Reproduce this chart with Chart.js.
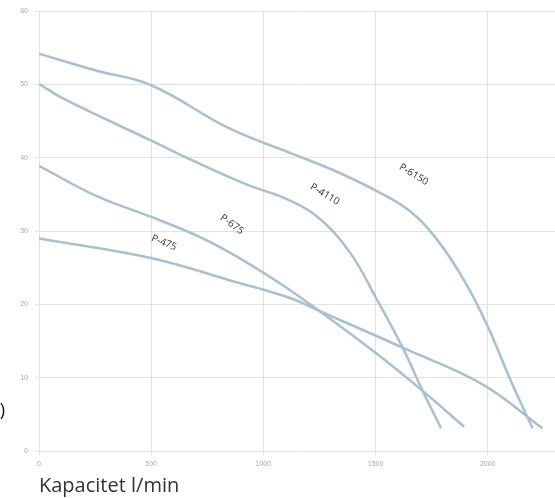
<!DOCTYPE html>
<html>
<head>
<meta charset="utf-8">
<script src="https://cdn.jsdelivr.net/npm/chart.js@4/dist/chart.umd.min.js"></script>
<style>
html, body { margin: 0; padding: 0; background: #fff; }
#wrap { position: relative; width: 555px; height: 498px; }
</style>
</head>
<body>
<div id="wrap"><canvas id="c" width="555" height="498"></canvas></div>
<script>
// curves: capacity (l/min) vs head (m)
var x6150 = [0, 255, 500, 849, 1116, 1320, 1503, 1650, 1780, 1900, 2000, 2100, 2200];
var y6150 = [54.2, 51.9, 49.9, 44.0, 40.7, 38.2, 35.5, 32.8, 28.6, 23.0, 17.0, 9.8, 3.1];
var x4110 = [0, 107, 503, 701, 938, 1087, 1235, 1383, 1502, 1621, 1710, 1792];
var y4110 = [50.1, 48.1, 42.3, 39.4, 36.2, 34.6, 32.1, 27.2, 20.9, 14.1, 8.2, 3.1];
var x675 = [0, 255, 503, 730, 938, 1116, 1250, 1500, 1710, 1895];
var y675 = [38.9, 34.8, 31.9, 29.0, 25.5, 22.0, 19.1, 13.4, 8.2, 3.3];
var x475 = [0, 503, 849, 1116, 1250, 1621, 1977, 2244];
var y475 = [29.0, 26.3, 23.3, 20.9, 19.1, 14.1, 9.1, 3.1];

var names = ['P-6150', 'P-4110', 'P-675', 'P-475'];
// where each curve name sits (data units) and its tilt
var labelX = [1670, 1274, 860, 557];
var labelY = [37.7, 35.0, 30.9, 28.4];
var labelAngle = [31, 31, 36, 22];

var xTicks = [0, 500, 1000, 1500, 2000];
var yTicks = [0, 10, 20, 30, 40, 50, 60];

var pts = function(xs, ys) {
    return xs.map(function(v, i) { return {x: v, y: ys[i]}; });
};

var series = [pts(x6150, y6150), pts(x4110, y4110), pts(x675, y675), pts(x475, y475)];

var curveLabels = {
    id: 'curveLabels',
    afterDatasetsDraw: function(chart) {
        var ctx = chart.ctx;
        var xs = chart.scales.x, ys = chart.scales.y;
        ctx.save();
        ctx.fillStyle = '#333';
        ctx.font = '10px "Open Sans", sans-serif';
        ctx.textAlign = 'center';
        ctx.textBaseline = 'middle';
        names.forEach(function(n, i) {
            ctx.save();
            ctx.translate(xs.getPixelForValue(labelX[i]), ys.getPixelForValue(labelY[i]));
            ctx.rotate(labelAngle[i] * Math.PI / 180);
            ctx.fillText(n, 0, 0);
            ctx.restore();
        });
        // clipped y title, only its last glyph shows at the edge
        ctx.font = '18px "Open Sans", sans-serif';
        ctx.fillStyle = '#111';
        ctx.textAlign = 'right';
        ctx.fillText('Tryk (m)', 5, 411);
        ctx.restore();
    }
};

new Chart(document.getElementById('c'), {
    type: 'line',
    data: {
        datasets: series.map(function(s, i) {
            return {
                label: names[i],
                data: s,
                borderColor: '#a9c0cf',
                borderWidth: 2.5,
                pointRadius: 0,
                fill: false,
                tension: 0.4
            };
        })
    },
    options: {
        responsive: false,
        animation: false,
        layout: { padding: { top: 7, right: 0, left: 0, bottom: 0 } },
        plugins: { legend: { display: false }, tooltip: { enabled: false } },
        scales: {
            x: {
                type: 'linear',
                min: 0,
                max: 2300,
                afterBuildTicks: function(s) { s.ticks = xTicks.map(function(v) { return {value: v}; }); },
                afterFit: function(s) { s.height = 47; },
                grid: { color: '#e2e2e2', tickLength: 4 },
                border: { color: '#e2e2e2' },
                ticks: {
                    color: '#aaa', font: { size: 7 }, padding: 5, maxRotation: 0,
                    callback: function(v) { return String(v); }
                },
                title: {
                    display: true,
                    text: 'Kapacitet l/min',
                    align: 'start',
                    color: '#333',
                    font: { family: '"Open Sans", sans-serif', size: 20 },
                    padding: { top: 0, bottom: 0 }
                }
            },
            y: {
                min: 0,
                max: 60,
                afterBuildTicks: function(s) { s.ticks = yTicks.map(function(v) { return {value: v}; }); },
                afterFit: function(s) { s.width = 39; },
                grid: { color: '#e2e2e2', tickLength: 4 },
                border: { color: '#e2e2e2' },
                ticks: { color: '#aaa', font: { size: 7 }, padding: 7 }
            }
        }
    },
    plugins: [curveLabels]
});
</script>
</body>
</html>
